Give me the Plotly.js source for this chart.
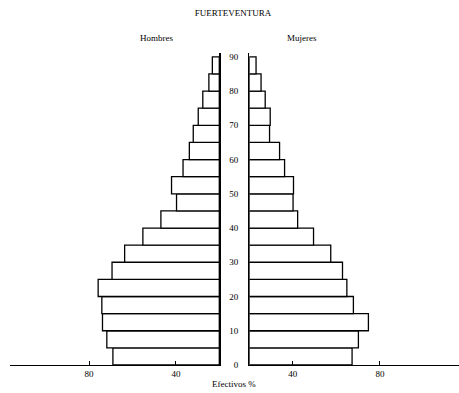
<!DOCTYPE html>
<html><head><meta charset="utf-8">
<script src="https://cdn.plot.ly/plotly-3.0.1.min.js"></script>
<style>html,body{margin:0;padding:0;background:#fff}</style>
</head><body><div id="chart" style="width:459px;height:393px"></div>
<script>
// Age groups (start year of each 5-year group)
const ageStart = [0,5,10,15,20,25,30,35,40,45,50,55,60,65,70,75,80,85];
// Values read from the "Efectivos %" axis (bars begin at BASE on each side)
const hombres = [69.0,71.8,73.8,74.1,75.8,69.4,63.6,55.2,46.9,39.7,42.0,36.7,33.8,32.0,29.7,27.6,24.8,23.2];
const mujeres = [67.2,70.1,74.7,67.8,64.8,62.8,57.4,49.5,42.2,40.1,40.3,36.2,33.9,29.3,29.6,27.3,25.4,23.1];
const xTickVals = [40, 80];
const xTickText = ['40', '80'];
const BASE = 20;

const font = {family: '"Liberation Serif", "Times New Roman", serif', size: 9, color: '#000'};
const barStyle = {color: '#ffffff', line: {color: '#000000', width: 1.3}};

const traces = [
  {type:'bar', orientation:'h', y: ageStart, x: hombres.map(v => v - BASE), base: BASE,
   offset: 0, width: 5, xaxis:'x', yaxis:'y', marker: barStyle, name:'Hombres', hoverinfo:'skip'},
  {type:'bar', orientation:'h', y: ageStart, x: mujeres.map(v => v - BASE), base: BASE,
   offset: 0, width: 5, xaxis:'x2', yaxis:'y2', marker: barStyle, name:'Mujeres', hoverinfo:'skip'}
];

const xCommon = {
  tickvals: xTickVals, ticktext: xTickText, ticks: 'inside', ticklen: 4, tickwidth: 1, tickcolor: '#000',
  showline: true, linecolor: '#000', linewidth: 1.3, showgrid: false, zeroline: false,
  tickfont: font, fixedrange: true
};
const yCommon = {
  range: [0, 91.2], domain: [1 - 365/393, 1 - 52.7/393], showline: true, linecolor: '#000', linewidth: 1.3,
  showgrid: false, zeroline: false, tick0: 0, dtick: 10, tickfont: font, fixedrange: true
};

const layout = {
  width: 459, height: 393,
  margin: {l: 0, r: 0, t: 0, b: 0},
  paper_bgcolor: '#fff', plot_bgcolor: '#fff',
  showlegend: false, barmode: 'overlay',
  font: font,
  title: {text: 'FUERTEVENTURA', x: 233/459, xanchor: 'center', y: 1 - 13.3/393, yanchor: 'middle', font: font},
  xaxis: Object.assign({}, xCommon, {domain: [10/459, 219.3/459], range: [116.4, BASE], anchor: 'y'}),
  xaxis2: Object.assign({}, xCommon, {domain: [249.3/459, 1], range: [BASE, 116.3], anchor: 'y2'}),
  yaxis: Object.assign({}, yCommon, {anchor: 'x', side: 'right', showticklabels: false, ticks: ''}),
  yaxis2: Object.assign({}, yCommon, {anchor: 'x2', side: 'left', showticklabels: true, ticks: '', ticklabelstandoff: 8}),
  annotations: [
    {text: 'Hombres', x: 156/459, y: 1 - 37.5/393, xref: 'paper', yref: 'paper', showarrow: false, xanchor: 'center', yanchor: 'middle', font: font},
    {text: 'Mujeres', x: 302.3/459, y: 1 - 37.5/393, xref: 'paper', yref: 'paper', showarrow: false, xanchor: 'center', yanchor: 'middle', font: font},
    {text: 'Efectivos %', x: 234/459, y: 1 - 384/393, xref: 'paper', yref: 'paper', showarrow: false, xanchor: 'center', yanchor: 'middle', font: font}
  ]
};

Plotly.newPlot('chart', traces, layout, {staticPlot: true, displayModeBar: false});
</script>
</body></html>
